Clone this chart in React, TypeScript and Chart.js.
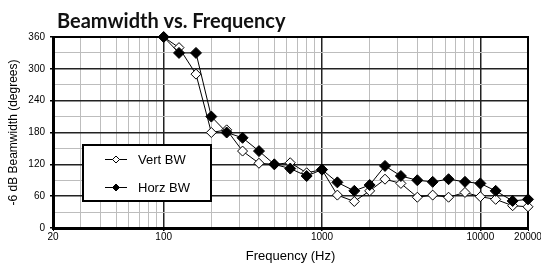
import React, { useEffect, useRef } from "react";
import { Chart, registerables } from "chart.js";

Chart.register(...registerables);

const TITLE = "Beamwidth vs. Frequency";
const X_TITLE = "Frequency (Hz)";
const Y_TITLE = "-6 dB Beamwidth (degrees)";

const freqs = [100, 125, 160, 200, 250, 315, 400, 500, 630, 800, 1000, 1250, 1600, 2000, 2500, 3150, 4000, 5000, 6300, 8000, 10000, 12500, 16000, 20000];
const vertBW = [360, 340, 290, 180, 185, 145, 122, 120, 123, 104, 110, 62, 50, 70, 92, 84, 58, 62, 58, 67, 59, 54, 42, 40];
const horzBW = [360, 330, 330, 210, 180, 170, 145, 120, 112, 98, 110, 86, 70, 81, 117, 98, 90, 87, 92, 87, 84, 70, 51, 54];

const xGridValues = [20, 30, 40, 50, 60, 70, 80, 90, 100, 200, 300, 400, 500, 600, 700, 800, 900, 1000, 2000, 3000, 4000, 5000, 6000, 7000, 8000, 9000, 10000, 20000];
const xTickLabels = [20, 100, 1000, 10000, 20000];
const xDecades = [100, 1000, 10000];

const yMin = 0;
const yMax = 360;
const yGridStep = 30;
const yLabelStep = 60;

const seriesNames = ["Vert BW", "Horz BW"];

const FONT = "'Liberation Sans', Arial, sans-serif";

const DARK = "#222";
const LIGHT = "#bdbdbd";

export default function App() {
  const ref = useRef<HTMLCanvasElement | null>(null);

  useEffect(() => {
    document.body.style.margin = "0";
    const canvas = ref.current;
    if (!canvas) return;

    const extras = {
      id: "extras",
      beforeDatasetsDraw(chart: any) {
        const { ctx, chartArea } = chart;
        ctx.save();
        ctx.strokeStyle = "#000";
        ctx.lineWidth = 2;
        ctx.beginPath();
        ctx.moveTo(chartArea.left, chartArea.top);
        ctx.lineTo(chartArea.right, chartArea.top);
        ctx.lineTo(chartArea.right, chartArea.bottom);
        ctx.stroke();
        ctx.restore();
      },
      afterDraw(chart: any) {
        const { ctx } = chart;
        ctx.save();
        ctx.fillStyle = "#111";
        ctx.font = "bold 20px Lato, 'Open Sans', sans-serif";
        ctx.textBaseline = "alphabetic";
        ctx.textAlign = "left";
        ctx.fillText(TITLE, 57, 28);

        const bx = 83, by = 145, bw = 128, bh = 56;
        ctx.fillStyle = "#fff";
        ctx.fillRect(bx, by, bw, bh);
        ctx.strokeStyle = "#000";
        ctx.lineWidth = 2;
        ctx.strokeRect(bx, by, bw, bh);
        const rows = [159.5, 187.5];
        rows.forEach((yy, i) => {
          ctx.strokeStyle = "#000";
          ctx.lineWidth = 1;
          ctx.beginPath();
          ctx.moveTo(105, yy);
          ctx.lineTo(127, yy);
          ctx.stroke();
          ctx.beginPath();
          const r = 3.5;
          ctx.moveTo(116 - r, yy);
          ctx.lineTo(116, yy - r);
          ctx.lineTo(116 + r, yy);
          ctx.lineTo(116, yy + r);
          ctx.closePath();
          ctx.fillStyle = i === 0 ? "#fff" : "#000";
          ctx.fill();
          ctx.stroke();
          ctx.fillStyle = "#000";
          ctx.font = "13px " + FONT;
          ctx.textBaseline = "middle";
          ctx.fillText(seriesNames[i], 138, yy + 0.5);
        });
        ctx.restore();
      },
    };

    const chart = new Chart(canvas, {
      type: "line",
      data: {
        datasets: [
          {
            label: seriesNames[0],
            data: freqs.map((f, i) => ({ x: f, y: vertBW[i] })),
            borderColor: "#000",
            borderWidth: 1,
            pointStyle: "rectRot",
            pointRadius: 5,
            pointBackgroundColor: "#fff",
            pointBorderColor: "#000",
            pointBorderWidth: 1,
            order: 1,
            clip: false as any,
          },
          {
            label: seriesNames[1],
            data: freqs.map((f, i) => ({ x: f, y: horzBW[i] })),
            borderColor: "#000",
            borderWidth: 1,
            pointStyle: "rectRot",
            pointRadius: 5.5,
            pointBackgroundColor: "#000",
            pointBorderColor: "#000",
            pointBorderWidth: 1,
            order: 0,
            clip: false as any,
          },
        ],
      },
      options: {
        responsive: false,
        animation: false,
        layout: { padding: { left: 0, right: 13, top: 37, bottom: 0 } },
        plugins: {
          legend: { display: false },
          title: { display: false },
          tooltip: { enabled: false },
        },
        scales: {
          x: {
            type: "logarithmic",
            min: 20,
            max: 20000,
            afterBuildTicks: (scale: any) => {
              scale.ticks = xGridValues.map((v) => ({ value: v }));
            },
            afterFit: (scale: any) => {
              scale.height = 38;
              scale.paddingRight = 13;
              scale.paddingLeft = 0;
            },
            ticks: {
              autoSkip: false,
              maxRotation: 0,
              minRotation: 0,
              padding: 0,
              color: "#000",
              font: { family: FONT, size: 10 },
              callback: (v: any) => (xTickLabels.includes(Number(v)) ? String(v) : ""),
            },
            grid: {
              color: (c: any) => (xDecades.includes(c.tick?.value) ? DARK : LIGHT),
              lineWidth: (c: any) => (xDecades.includes(c.tick?.value) ? 1.5 : 1),
              tickLength: 3,
              tickColor: (c: any) => (xTickLabels.includes(c.tick?.value) ? "#000" : "rgba(0,0,0,0)"),
            },
            border: { display: true, color: "#000", width: 3 },
            title: {
              display: true,
              text: X_TITLE,
              color: "#000",
              font: { family: FONT, size: 13 },
              padding: { top: 0, bottom: 2 },
            },
          },
          y: {
            type: "linear",
            min: yMin,
            max: yMax,
            afterFit: (scale: any) => {
              scale.width = 53;
            },
            ticks: {
              stepSize: yGridStep,
              padding: 5,
              color: "#000",
              font: { family: FONT, size: 10 },
              callback: (v: any) => (Number(v) % yLabelStep === 0 ? String(v) : ""),
            },
            grid: {
              color: (c: any) => (c.tick && c.tick.value % yLabelStep === 0 ? DARK : LIGHT),
              lineWidth: (c: any) => (c.tick && c.tick.value % yLabelStep === 0 ? 1.5 : 1),
              tickLength: 3,
              tickColor: (c: any) => (c.tick && c.tick.value % yLabelStep === 0 ? "#000" : "rgba(0,0,0,0)"),
            },
            border: { display: true, color: "#000", width: 3 },
            title: {
              display: true,
              text: Y_TITLE,
              color: "#000",
              font: { family: FONT, size: 12 },
              padding: { top: 6, bottom: 0 },
            },
          },
        },
      },
      plugins: [extras],
    } as any);

    return () => chart.destroy();
  }, []);

  return (
    <div style={{ width: 541, height: 266, background: "#fff" }}>
      <canvas ref={ref} width={541} height={266} />
    </div>
  );
}
